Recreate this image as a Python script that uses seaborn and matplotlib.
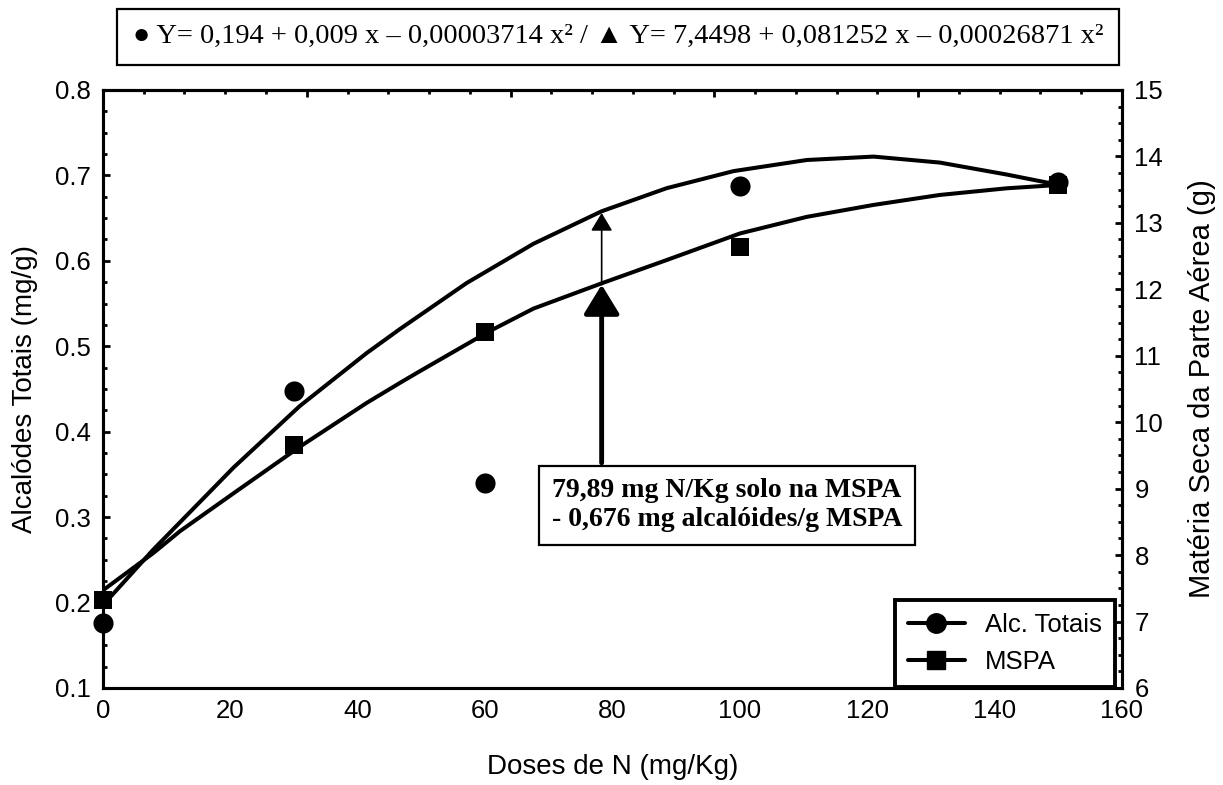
import numpy as np
import pandas as pd
import matplotlib
matplotlib.use("Agg")
import matplotlib.pyplot as plt
import seaborn as sns
from matplotlib.lines import Line2D
from matplotlib.ticker import MultipleLocator

# ---------------- data ----------------
doses = [0, 30, 60, 100, 150]
alc_totais = [0.176, 0.448, 0.340, 0.687, 0.692]          # left axis (mg/g)
mspa = [7.32, 9.66, 11.36, 12.64, 13.57]                   # right axis (g)

# fitted curves
alc_curve_x = [0, 7.9, 12.1, 20.5, 30.9, 41.4, 46.6, 57.1, 67.6, 78.3, 88.5,
               99.0, 110.5, 121.0, 131.4, 141.9, 150.0]
alc_curve_y = [0.197, 0.262, 0.294, 0.358, 0.430, 0.492, 0.520, 0.574, 0.620,
               0.658, 0.685, 0.705, 0.718, 0.722, 0.715, 0.701, 0.689]
mspa_curve_x = [0, 7.9, 12.1, 20.5, 30.9, 41.4, 46.6, 49.8, 60.5, 67.6, 78.3,
                88.5, 100.0, 110.5, 121.0, 131.4, 141.9, 150.0]
mspa_curve_y = [7.47, 8.03, 8.36, 8.93, 9.63, 10.29, 10.59, 10.77, 11.36, 11.71,
                12.09, 12.44, 12.84, 13.09, 13.27, 13.42, 13.52, 13.57]

opt_dose = 78.3
arrow_base = 0.3635
arrow_low = 0.572
arrow_high = 0.656

title_text = ("\u25CF Y= 0,194 + 0,009 x \u2013 0,00003714 x\u00B2 / "
              "\u25B2 Y= 7,4498 + 0,081252 x \u2013 0,00026871 x\u00B2")
note_text = "79,89 mg N/Kg solo na MSPA\n- 0,676 mg alcal\u00F3ides/g MSPA"
xlabel = "Doses de N (mg/Kg)"
ylabel_left = "Alcal\u00F3des Totais (mg/g)"
ylabel_right = "Mat\u00E9ria Seca da Parte A\u00E9rea (g)"
legend_labels = ["Alc. Totais", "MSPA"]

# ---------------- style ----------------
sns.set_style("white")
plt.rcParams["font.family"] = ["Liberation Sans", "DejaVu Sans"]
plt.rcParams.update({
    "axes.linewidth": 2.2,
    "axes.edgecolor": "black",
    "text.color": "black",
    "axes.labelcolor": "black",
    "xtick.color": "black",
    "ytick.color": "black",
})

fig = plt.figure(figsize=(12.23, 7.85), dpi=100)
ax = fig.add_axes([0.0842, 0.1236, 0.8332, 0.7618])
ax2 = ax.twinx()

pts = pd.DataFrame({"dose": doses, "alc": alc_totais, "mspa": mspa})
c1 = pd.DataFrame({"x": alc_curve_x, "y": alc_curve_y})
c2 = pd.DataFrame({"x": mspa_curve_x, "y": mspa_curve_y})

sns.lineplot(data=c1, x="x", y="y", ax=ax, color="black", lw=2.9,
             estimator=None, sort=False, legend=False)
sns.scatterplot(data=pts, x="dose", y="alc", ax=ax, color="black", marker="o",
                s=210, edgecolor="black", linewidth=0, legend=False, zorder=3)
sns.lineplot(data=c2, x="x", y="y", ax=ax2, color="black", lw=2.9,
             estimator=None, sort=False, legend=False)
sns.scatterplot(data=pts, x="dose", y="mspa", ax=ax2, color="black", marker="s",
                s=175, edgecolor="black", linewidth=0, legend=False, zorder=3)

ax.set_xlim(0, 160)
ax.set_ylim(0.1, 0.8)
ax2.set_ylim(6, 15)
for coll in ax.collections + ax2.collections:
    coll.set_clip_on(False)

ax.xaxis.set_major_locator(MultipleLocator(20))
ax.xaxis.set_minor_locator(MultipleLocator(4))
ax.yaxis.set_major_locator(MultipleLocator(0.1))
ax.yaxis.set_minor_locator(MultipleLocator(0.025))
ax2.yaxis.set_major_locator(MultipleLocator(1))
ax2.yaxis.set_minor_locator(MultipleLocator(0.25))
ax.yaxis.set_major_formatter(plt.FuncFormatter(lambda v, p: f"{v:.1f}"))

for a in (ax, ax2):
    a.tick_params(which="major", direction="in", length=5, width=2,
                  labelsize=18.5, pad=9)
    a.tick_params(which="minor", direction="in", length=3, width=2)
ax.tick_params(axis="x", pad=8)

top = ax.secondary_xaxis("top")
top.set_xticks(np.arange(0, 161, 32))
top.xaxis.set_minor_locator(MultipleLocator(6.4))
top.set_xticklabels([])
top.tick_params(which="major", direction="in", length=5, width=2)
top.tick_params(which="minor", direction="in", length=3, width=2)

ax.set_xlabel(xlabel, fontsize=20, labelpad=22)
ax.set_ylabel(ylabel_left, fontsize=20, labelpad=12)
ax2.set_ylabel(ylabel_right, fontsize=21, labelpad=18)

# arrows
ax.annotate("", xy=(opt_dose, arrow_low), xytext=(opt_dose, arrow_base),
            arrowprops=dict(arrowstyle="-|>,head_length=0.9,head_width=0.55",
                            mutation_scale=20, lw=3.5, color="black",
                            shrinkA=0, shrinkB=0), zorder=4)
ax.annotate("", xy=(opt_dose, arrow_high), xytext=(opt_dose, arrow_low),
            arrowprops=dict(arrowstyle="-|>,head_length=0.55,head_width=0.33",
                            mutation_scale=20, lw=1.2, color="black",
                            shrinkA=0, shrinkB=0), zorder=4)

ax.text(98, 0.314, note_text, ha="center", va="center", multialignment="center",
        fontsize=20, fontweight="bold", linespacing=1.2,
        family=["Liberation Serif", "DejaVu Serif"], zorder=5,
        bbox=dict(boxstyle="square,pad=0.45", fc="white", ec="black", lw=1.6))

fig.text(0.5053, 0.953, title_text, ha="center", va="center", fontsize=20.5,
         family=["Liberation Serif", "DejaVu Sans"],
         bbox=dict(boxstyle="square,pad=0.55", fc="white", ec="black", lw=1.6))

handles = [Line2D([], [], color="black", lw=2.9, marker="o", markersize=14),
           Line2D([], [], color="black", lw=2.9, marker="s", markersize=13)]
leg = ax2.legend(handles, legend_labels, loc="lower right",
                 bbox_to_anchor=(0.993, 0.002), borderaxespad=0,
                 fontsize=18.5, frameon=True, fancybox=False, framealpha=1,
                 edgecolor="black", handlelength=2.2, borderpad=0.5,
                 labelspacing=0.5, handletextpad=0.8)
leg.get_frame().set_linewidth(2.8)

fig.savefig("out.png", dpi=100, facecolor="white")
